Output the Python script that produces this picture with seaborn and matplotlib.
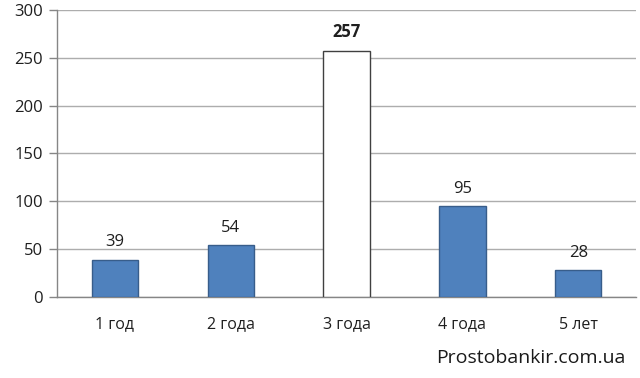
import seaborn as sns
import pandas as pd
import matplotlib.pyplot as plt

categories = ['1 год', '2 года', '3 года', '4 года', '5 лет']
values = [39, 54, 257, 95, 28]
bar_colors = ['#4F81BD', '#4F81BD', '#FFFFFF', '#4F81BD', '#4F81BD']
edge_colors = ['#385D8A', '#385D8A', '#404040', '#385D8A', '#385D8A']
yticks = [0, 50, 100, 150, 200, 250, 300]

sns.set_style('white')
plt.rcParams['font.family'] = ['Open Sans', 'DejaVu Sans']

df = pd.DataFrame({'period': categories, 'count': values})

fig = plt.figure(figsize=(6.4, 3.78), dpi=100)
ax = fig.add_axes([0.089, 0.214, 0.905, 0.76])

sns.barplot(data=df, x='period', y='count', hue='period', palette=bar_colors,
            saturation=1, legend=False, width=0.4, ax=ax, zorder=3)
for patch, ec in zip(ax.patches, edge_colors):
    patch.set_edgecolor(ec)
    patch.set_linewidth(1.0)

ax.set_ylim(0, 300)
ax.set_xlim(-0.5, len(categories) - 0.5)
ax.set_yticks(yticks)
ax.yaxis.grid(True, color='#ADADAD', linewidth=1.0, zorder=0)
ax.set_axisbelow(True)

# x ticks sit between categories
ax.set_xticks(range(len(categories)))
ax.set_xticklabels(categories, fontsize=11.5, color='#1f1f1f')
ax.tick_params(axis='x', length=0, pad=14)
ax.set_xticks([i - 0.5 for i in range(len(categories) + 1)], minor=True)
ax.tick_params(axis='x', which='minor', length=5, color='#868686', width=1)
ax.tick_params(axis='y', length=6, color='#868686', width=1, labelsize=12,
               labelcolor='#1f1f1f', pad=4, left=True)

ax.set_xlabel('')
ax.set_ylabel('')
for side in ['top', 'right']:
    ax.spines[side].set_visible(False)
for side in ['left', 'bottom']:
    ax.spines[side].set_color('#868686')
    ax.spines[side].set_linewidth(1.0)

for i, v in enumerate(values):
    ax.text(i, v + 10, str(v), ha='center', va='bottom', fontsize=12,
            color='#1f1f1f', fontweight='bold' if v == max(values) else 'normal')

fig.text(0.977, 0.053, 'Prostobankir.com.ua', ha='right', va='center',
         fontsize=14, color='#1a1a1a')

fig.savefig('out.png', dpi=100)
